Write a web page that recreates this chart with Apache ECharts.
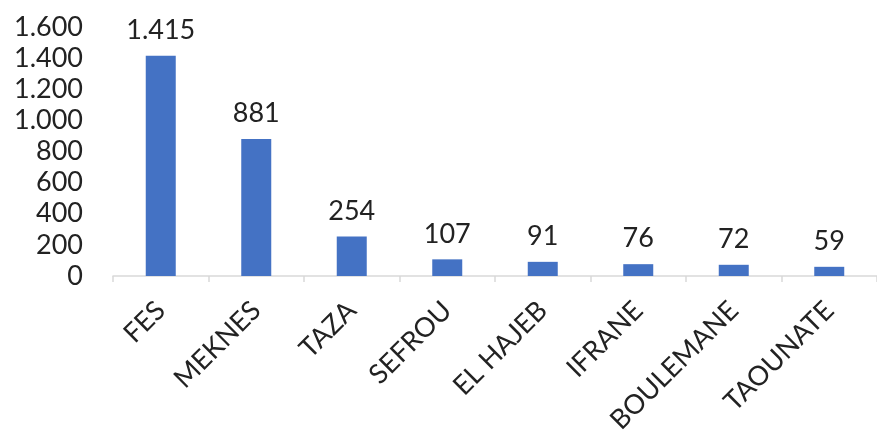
<!DOCTYPE html>
<html>
<head>
<meta charset="utf-8">
<script src="https://cdn.jsdelivr.net/npm/echarts@6/dist/echarts.min.js"></script>
<style>
  html, body { margin: 0; padding: 0; background: #fff; }
  #chart { width: 877px; height: 443px; }
</style>
</head>
<body>
<div id="chart"></div>
<script>
const provinces = ["FES", "MEKNES", "TAZA", "SEFROU", "EL HAJEB", "IFRANE", "BOULEMANE", "TAOUNATE"];
const counts = [1415, 881, 254, 107, 91, 76, 72, 59];

// thousands separator as a dot, like the source
const fmt = (v) => String(v).replace(/\B(?=(\d{3})+(?!\d))/g, ".");

const chart = echarts.init(document.getElementById("chart"));
chart.setOption({
  animation: false,
  textStyle: { fontFamily: "Lato" },
  grid: { left: 113, top: 27, width: 773, bottom: 167, containLabel: false },
  xAxis: {
    type: "category",
    data: provinces,
    axisLine: { lineStyle: { color: "#d9d9d9", width: 1.5 } },
    axisTick: { show: true, length: 6, lineStyle: { color: "#d9d9d9", width: 1.5 } },
    axisLabel: {
      rotate: 45,
      margin: 30,
      fontSize: 27,
      color: "#222",
      fontFamily: "Lato",
    },
  },
  yAxis: {
    type: "value",
    min: 0,
    max: 1600,
    interval: 200,
    axisLine: { show: false },
    axisTick: { show: false },
    splitLine: { show: false },
    axisLabel: {
      margin: 30,
      fontSize: 27,
      color: "#222",
      fontFamily: "Lato",
      formatter: fmt,
    },
  },
  series: [
    {
      type: "bar",
      data: counts,
      barWidth: 30,
      itemStyle: { color: "#4472C4" },
      label: {
        show: true,
        position: "top",
        distance: 12,
        fontSize: 27,
        color: "#222",
        fontFamily: "Lato",
        formatter: (p) => fmt(p.value),
      },
    },
  ],
});
</script>
</body>
</html>
